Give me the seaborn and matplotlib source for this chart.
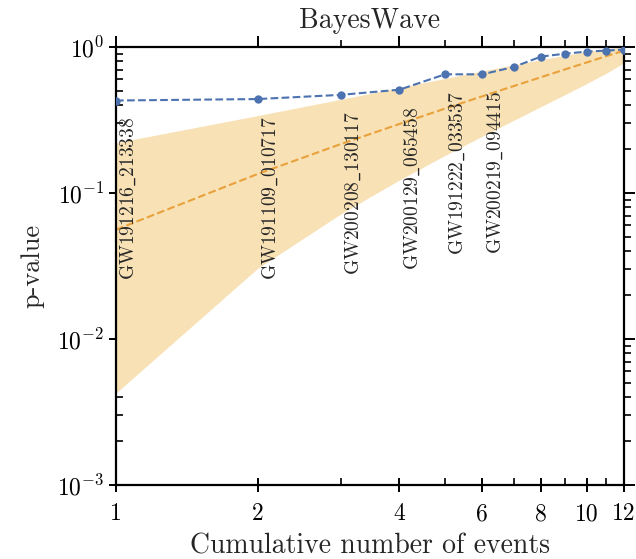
import numpy as np
import pandas as pd
import matplotlib
matplotlib.use("Agg")
import matplotlib.pyplot as plt
import matplotlib.lines as mlines
from matplotlib.ticker import FixedLocator, FixedFormatter, NullFormatter
import seaborn as sns

# Cumulative event count and observed p-values (BayesWave)
n_events = [1, 2, 3, 4, 5, 6, 7, 8, 9, 10, 11, 12]
p_values = [0.43, 0.44, 0.47, 0.51, 0.65, 0.65, 0.73, 0.86, 0.90, 0.93, 0.945, 0.96]

# Expected p-value (median) and 90% band for the ordered p-values
expected_median = [0.0561, 0.1350, 0.2160, 0.2970, 0.3785, 0.4595,
                   0.5405, 0.6215, 0.7030, 0.7840, 0.8650, 0.9439]
band_lower = [0.00427, 0.0305, 0.0718, 0.1228, 0.181, 0.245,
              0.315, 0.391, 0.473, 0.562, 0.661, 0.7791]
band_upper = [0.2209, 0.339, 0.438, 0.527, 0.609, 0.685,
              0.755, 0.819, 0.877, 0.928, 0.9695, 0.99573]

# Events labelled along the first steps of the curve
event_names = ["GW191216_213338", "GW191109_010717", "GW200208_130117",
               "GW200129_065458", "GW191222_033537", "GW200219_094415"]

x_ticks = [1, 2, 4, 6, 8, 10, 12]
x_minor = [3, 5, 7, 9, 11]
x_tick_labels = ["1", "2", "4", "6", "8", "10", "12"]
y_decades = [1e-3, 1e-2, 1e-1, 1e0]
y_minor = [m * d for d in y_decades[:-1] for m in range(2, 10)]

sns.set_theme(style="ticks")
plt.rcParams.update({
    "font.family": "serif",
    "font.serif": ["cmr10", "DejaVu Serif"],
    "mathtext.fontset": "cm",
    "axes.formatter.use_mathtext": True,
    "axes.linewidth": 1.6,
    "axes.edgecolor": "black",
    "xtick.color": "black",
    "ytick.color": "black",
})

df = pd.DataFrame({"n": n_events, "p": p_values, "median": expected_median,
                   "lo": band_lower, "hi": band_upper})

fig = plt.figure(figsize=(6.36, 5.59), dpi=100)
rect = [116 / 636, 1 - 485 / 559, (624 - 116) / 636, (485 - 47) / 559]
ax = fig.add_axes(rect)

ax.fill_between(df["n"], df["lo"], df["hi"], color="#F7E1B5", linewidth=0, zorder=1)
sns.lineplot(data=df, x="n", y="median", ax=ax, color="#E9A23B", linestyle="--",
             linewidth=1.5, zorder=2)
sns.lineplot(data=df, x="n", y="p", ax=ax, color="#4C72B0", linestyle="--",
             linewidth=1.5, marker="o", markersize=6, markeredgewidth=0, zorder=3)

ax.set_xscale("log")
ax.set_yscale("log")
ax.set_xlim(1, 12)
ax.set_ylim(1e-3, 1)

# Event names hang just below their points, reading bottom to top
for name, xv, pv in zip(event_names, n_events, p_values):
    label = r"$\mathrm{" + name.replace("_", r"\_") + "}$"
    ax.annotate(label, xy=(xv, pv), xytext=(2, -12), textcoords="offset points",
                rotation=90, ha="left", va="top", fontsize=14, zorder=4)

ax.xaxis.set_major_locator(FixedLocator(x_ticks))
ax.xaxis.set_minor_locator(FixedLocator(x_minor))
ax.xaxis.set_major_formatter(FixedFormatter(x_tick_labels))
ax.xaxis.set_minor_formatter(NullFormatter())
ax.yaxis.set_major_locator(FixedLocator(y_decades))
ax.yaxis.set_minor_locator(FixedLocator(y_minor))
ax.yaxis.set_minor_formatter(NullFormatter())

ax.tick_params(which="major", direction="inout", length=10, width=1.4,
               labelsize=17, top=True, right=True)
ax.tick_params(axis="x", which="major", pad=8)
ax.tick_params(which="minor", direction="in", length=5, width=1.2,
               top=True, right=True)

ax.set_xlabel("Cumulative number of events", fontsize=20, labelpad=6)
ax.set_ylabel("p-value", fontsize=19, labelpad=9)
ax.set_title("BayesWave", fontsize=20, pad=14)

# Ticks on the top and right edges point outward only
for tick in ax.xaxis.get_major_ticks():
    tick.tick2line.set_marker(mlines.TICKUP)
    tick.tick2line.set_markersize(8)
for tick in ax.xaxis.get_minor_ticks():
    tick.tick2line.set_marker(mlines.TICKUP)
    tick.tick2line.set_markersize(5)
for tick in ax.yaxis.get_major_ticks():
    tick.tick2line.set_marker(mlines.TICKRIGHT)
    tick.tick2line.set_markersize(8)
for tick in ax.yaxis.get_minor_ticks():
    tick.tick2line.set_marker(mlines.TICKRIGHT)
    tick.tick2line.set_markersize(5)

fig.savefig("out.png", dpi=100)
